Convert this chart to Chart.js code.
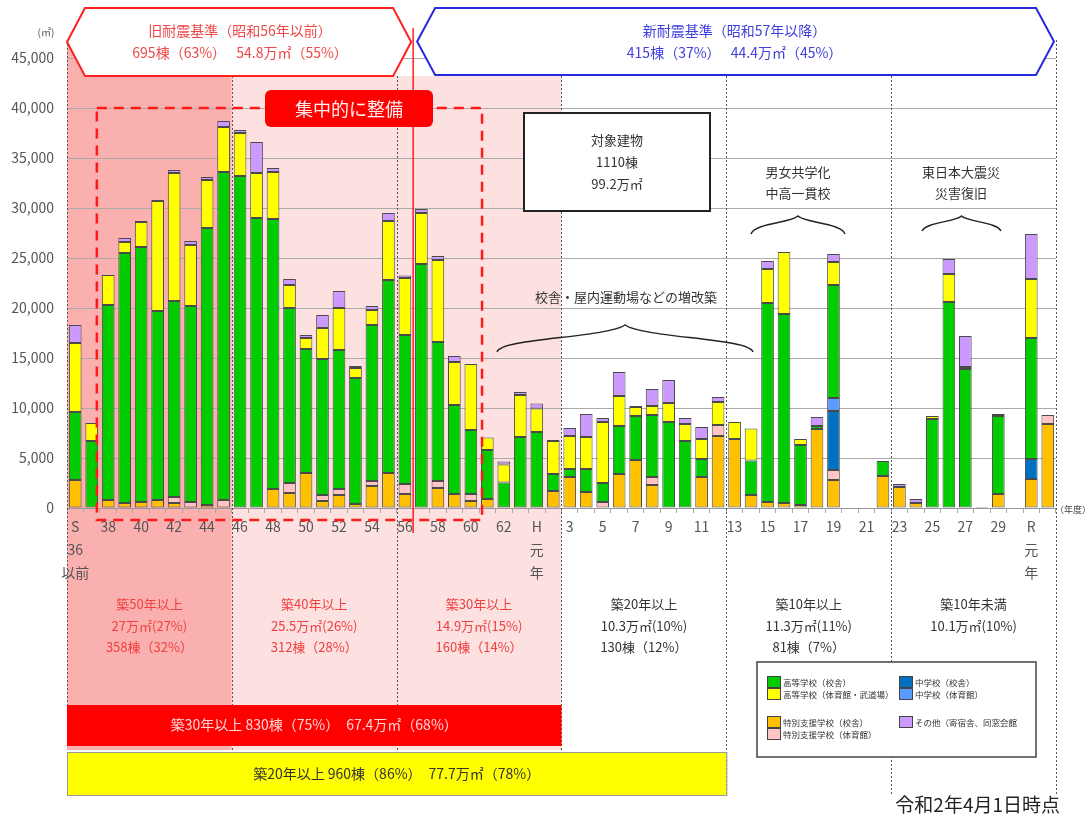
<!DOCTYPE html>
<html lang="ja">
<head>
<meta charset="utf-8">
<title>県立学校施設 建築年度別保有面積</title>
<script src="https://cdn.jsdelivr.net/npm/chart.js@4/dist/chart.umd.min.js"></script>
<style>
  html, body { margin: 0; padding: 0; background: #fff; }
  canvas { display: block; }
</style>
</head>
<body>
<canvas id="c" width="1089" height="821"></canvas>
<script>
// 建築年度（S36以前 ～ R2）
const categories = [
  'S36以前','S37','S38','S39','S40','S41','S42','S43','S44','S45',
  'S46','S47','S48','S49','S50','S51','S52','S53','S54','S55',
  'S56','S57','S58','S59','S60','S61','S62','S63','H元','H2',
  'H3','H4','H5','H6','H7','H8','H9','H10','H11','H12',
  'H13','H14','H15','H16','H17','H18','H19','H20','H21','H22',
  'H23','H24','H25','H26','H27','H28','H29','H30','R元','R2'
];

// 目盛に表示する年度（1年おき）
const xTickLabels = [
  ['S','36','以前'],'','38','','40','','42','','44','',
  '46','','48','','50','','52','','54','',
  '56','','58','','60','','62','',['H','元','年'],'',
  '3','','5','','7','','9','','11','',
  '13','','15','','17','','19','','21','',
  '23','','25','','27','','29','',['R','元','年'],''
];

const yTicks = [0, 5000, 10000, 15000, 20000, 25000, 30000, 35000, 40000, 45000];

// 延床面積（㎡）
const specialMain = [
  2800,0,800,500,600,800,500,0,300,0,
  0,0,1900,1500,3500,700,1300,400,2200,3500,
  1400,0,2000,1400,700,900,0,0,0,1700,
  3100,1600,0,3400,4800,2300,0,0,3100,7200,
  6900,1300,600,500,300,7900,2800,0,0,3200,
  2100,500,0,0,0,100,1400,0,2900,8400
];
const specialGym = [
  0,0,0,0,0,0,600,600,0,800,
  0,0,0,1000,0,600,600,0,500,0,
  1000,0,700,0,700,0,0,0,0,0,
  0,0,600,0,0,800,0,0,0,1100,
  0,0,0,0,0,0,1000,0,0,0,
  0,0,0,0,0,0,0,0,0,900
];
const juniorMain = [
  0,0,0,0,0,0,0,0,0,0,
  0,0,0,0,0,0,0,0,0,0,
  0,0,0,0,0,0,0,0,0,0,
  0,0,0,0,0,0,0,0,0,0,
  0,0,0,0,0,0,5900,0,0,0,
  0,0,0,0,0,0,0,0,2000,0
];
const juniorGym = [
  0,0,0,0,0,0,0,0,0,0,
  0,0,0,0,0,0,0,0,0,0,
  0,0,0,0,0,0,0,0,0,0,
  0,0,0,0,0,0,0,0,0,0,
  0,0,0,0,0,0,1300,0,0,0,
  0,0,0,0,0,0,0,0,0,0
];
const highMain = [
  6800,6700,19500,25000,25500,18900,19600,19600,27700,32800,
  33200,29000,27000,17500,12400,13600,13900,12600,15600,19300,
  14900,24400,13900,8900,6400,4900,2550,7100,7600,1700,
  800,2300,1900,4800,4400,6200,8600,6700,1800,0,
  0,3450,19900,18900,6000,300,11300,0,0,1500,
  0,0,8900,20600,13900,0,7800,0,12100,0
];
const highGym = [
  6900,1800,3000,1100,2500,11000,12800,6100,4800,4500,
  4300,4500,4700,2300,1100,3100,4200,1000,1500,5900,
  5700,5100,8200,4300,6600,1250,1800,4200,2350,3300,
  3300,3200,6100,3000,900,900,1900,1700,2000,2300,
  1700,3200,3400,6200,600,0,2300,0,0,0,
  0,0,300,2800,200,0,0,0,5900,0
];
const others = [
  1800,0,0,400,100,100,300,400,300,600,
  300,3100,400,600,300,1300,1700,200,400,800,
  250,400,400,600,0,0,300,300,500,100,
  800,2300,400,2400,100,1700,2300,600,1200,500,
  0,0,800,0,0,900,800,0,0,0,
  300,400,0,1500,3100,0,200,0,4500,0
];

// 築年数区分の境界（カテゴリ番号）と集計
const bandEdges = [0, 10, 20, 30, 40, 50, 60];
const bandTitles = ['築50年以上', '築40年以上', '築30年以上', '築20年以上', '築10年以上', '築10年未満'];
const bandAreas = ['27万㎡(27%)', '25.5万㎡(26%)', '14.9万㎡(15%)', '10.3万㎡(10%)', '11.3万㎡(11%)', '10.1万㎡(10%)'];
const bandCounts = ['358棟（32%）', '312棟（28%）', '160棟（14%）', '130棟（12%）', '81棟（7%）', ''];

const FONT = '"Noto Sans CJK JP", "Noto Sans", sans-serif';

function series(label, data, color) {
  return {
    label, data: data.map(v => v || null),
    backgroundColor: color, borderColor: '#4a4a4a', borderWidth: 1,
    borderSkipped: false, barPercentage: 0.77, categoryPercentage: 1
  };
}

function text(ctx, s, x, y, size, color, align) {
  ctx.save();
  ctx.font = size + 'px ' + FONT;
  ctx.fillStyle = color;
  ctx.textAlign = align || 'center';
  ctx.textBaseline = 'middle';
  ctx.fillText(s, x, y);
  ctx.restore();
}

function hexBanner(ctx, x0, x1, top, bot, stroke) {
  const mid = (top + bot) / 2, d = 18;
  ctx.save();
  ctx.beginPath();
  ctx.moveTo(x0, mid);
  ctx.lineTo(x0 + d, top);
  ctx.lineTo(x1 - d, top);
  ctx.lineTo(x1, mid);
  ctx.lineTo(x1 - d, bot);
  ctx.lineTo(x0 + d, bot);
  ctx.closePath();
  ctx.fillStyle = '#fff';
  ctx.fill();
  ctx.strokeStyle = stroke;
  ctx.lineWidth = 2;
  ctx.stroke();
  ctx.restore();
}

function brace(ctx, x1, x2, yEnd, yMid, yTip) {
  const xm = (x1 + x2) / 2;
  ctx.save();
  ctx.beginPath();
  ctx.moveTo(x1, yEnd);
  ctx.bezierCurveTo(x1 + 4, yMid, xm - (xm - x1) * 0.15, yMid, xm, yTip);
  ctx.bezierCurveTo(xm + (x2 - xm) * 0.15, yMid, x2 - 4, yMid, x2, yEnd);
  ctx.strokeStyle = '#222';
  ctx.lineWidth = 1.5;
  ctx.stroke();
  ctx.restore();
}

const backdrop = {
  id: 'backdrop',
  beforeDraw(chart) {
    const ctx = chart.ctx, xs = chart.scales.x;
    const step = xs.getPixelForValue(1) - xs.getPixelForValue(0);
    const edge = k => xs.getPixelForValue(0) + (k - 0.5) * step;
    ctx.save();
    ctx.fillStyle = '#fbb0b0';
    ctx.fillRect(edge(0), 40, edge(10) - edge(0), 710);
    ctx.fillStyle = '#fde0e0';
    ctx.fillRect(edge(10), 76, edge(30) - edge(10), 674);
    ctx.restore();
  }
};

const overlay = {
  id: 'overlay',
  afterDraw(chart) {
    const ctx = chart.ctx, xs = chart.scales.x, ys = chart.scales.y;
    const step = xs.getPixelForValue(1) - xs.getPixelForValue(0);
    const edge = k => xs.getPixelForValue(0) + (k - 0.5) * step;
    const at = f => xs.getPixelForValue(0) + f * step;

    // 区分の点線
    ctx.save();
    ctx.strokeStyle = '#555';
    ctx.lineWidth = 1;
    ctx.setLineDash([2, 2]);
    bandEdges.forEach((k, i) => {
      const top = (i === 0 || i === bandEdges.length - 1) ? 40 : 76;
      const bottom = i === 0 ? 705 : 795;
      ctx.beginPath();
      ctx.moveTo(Math.round(edge(k)) + 0.5, top);
      ctx.lineTo(Math.round(edge(k)) + 0.5, bottom);
      ctx.stroke();
    });
    ctx.restore();

    // 旧・新耐震基準の境界
    ctx.save();
    ctx.strokeStyle = '#ff2020';
    ctx.lineWidth = 1.5;
    ctx.beginPath();
    ctx.moveTo(edge(21), 28);
    ctx.lineTo(edge(21), 533);
    ctx.stroke();
    ctx.restore();

    // 集中的に整備した範囲
    ctx.save();
    ctx.strokeStyle = '#ff1a1a';
    ctx.lineWidth = 2.5;
    ctx.setLineDash([10, 7]);
    ctx.strokeRect(at(1.31), ys.getPixelForValue(40000), at(24.68) - at(1.31), 520 - ys.getPixelForValue(40000));
    ctx.restore();

    // 耐震基準の見出し
    hexBanner(ctx, edge(0), edge(21) - 2, 8, 76, '#ff2020');
    hexBanner(ctx, edge(21) + 4, edge(60) - 2, 8, 75, '#2828e0');
    const redMid = (edge(0) + edge(21)) / 2;
    const blueMid = (edge(21) + edge(60)) / 2;
    text(ctx, '旧耐震基準（昭和56年以前）', redMid, 31, 14, '#ef4848');
    text(ctx, '695棟（63%）　 54.8万㎡（55%）', redMid, 53, 14, '#ef4848');
    text(ctx, '新耐震基準（昭和57年以降）', blueMid, 31, 14, '#4040dc');
    text(ctx, '415棟（37%）　 44.4万㎡（45%）', blueMid, 53, 14, '#4040dc');

    // 集中的に整備
    ctx.save();
    ctx.fillStyle = '#ff0000';
    ctx.beginPath();
    ctx.roundRect(265, 90, 168, 37, 6);
    ctx.fill();
    ctx.restore();
    text(ctx, '集中的に整備', 349, 109, 18, '#fff0f0');

    // 対象建物
    ctx.save();
    ctx.fillStyle = '#fff';
    ctx.fillRect(524, 113, 186, 98);
    ctx.strokeStyle = '#222';
    ctx.lineWidth = 2;
    ctx.strokeRect(524, 113, 186, 98);
    ctx.restore();
    text(ctx, '対象建物', 617, 140, 13, '#333');
    text(ctx, '1110棟', 617, 162, 13, '#333');
    text(ctx, '99.2万㎡', 617, 184, 13, '#333');

    // 説明と括弧
    text(ctx, '校舎・屋内運動場などの増改築', 626, 297, 13, '#333');
    brace(ctx, 497, 753, 352, 338, 325);
    text(ctx, '男女共学化', 798, 172, 13, '#333');
    text(ctx, '中高一貫校', 798, 193, 13, '#333');
    brace(ctx, 751, 845, 234, 223, 216);
    text(ctx, '東日本大震災', 961, 172, 13, '#333');
    text(ctx, '災害復旧', 961, 193, 13, '#333');
    brace(ctx, 922, 1001, 231, 222, 216);

    // 築年数区分ごとの集計
    for (let i = 0; i < bandTitles.length; i++) {
      const cx = (edge(bandEdges[i]) + edge(bandEdges[i + 1])) / 2;
      const col = i < 3 ? '#f04040' : '#333';
      text(ctx, bandTitles[i], cx, 604, 13, col);
      text(ctx, bandAreas[i], cx, 626, 13, col);
      if (bandCounts[i]) text(ctx, bandCounts[i], cx, 647, 13, col);
    }

    // 築30年以上・築20年以上の合計
    ctx.save();
    ctx.fillStyle = '#ff0000';
    ctx.fillRect(edge(0), 705, edge(30) - edge(0), 41);
    ctx.fillStyle = '#ffff00';
    ctx.fillRect(edge(0), 752, edge(40) - edge(0), 43);
    ctx.strokeStyle = '#999';
    ctx.lineWidth = 1;
    ctx.strokeRect(edge(0) + 0.5, 752.5, edge(40) - edge(0), 43);
    ctx.restore();
    text(ctx, '築30年以上 830棟（75%）　67.4万㎡（68%）', (edge(0) + edge(30)) / 2, 725, 14, '#ffd6d6');
    text(ctx, '築20年以上 960棟（86%）　77.7万㎡（78%）', (edge(0) + edge(40)) / 2, 774, 14, '#333');

    // 凡例
    ctx.save();
    ctx.fillStyle = '#fff';
    ctx.fillRect(757, 662, 279, 95);
    ctx.strokeStyle = '#444';
    ctx.lineWidth = 1.5;
    ctx.strokeRect(757, 662, 279, 95);
    ctx.restore();
    const slots = [[4, 767, 676], [5, 767, 688], [2, 899, 676], [3, 899, 688], [0, 767, 716], [1, 767, 728], [6, 899, 716]];
    slots.forEach(([di, x, y]) => {
      const ds = chart.data.datasets[di];
      ctx.save();
      ctx.fillStyle = ds.backgroundColor;
      ctx.fillRect(x, y, 14, 12);
      ctx.strokeStyle = '#444';
      ctx.lineWidth = 1;
      ctx.strokeRect(x + 0.5, y + 0.5, 13, 11);
      ctx.restore();
      text(ctx, ds.label, x + 16, y + 6.5, 8.5, '#333', 'left');
    });

    // 単位・日付
    text(ctx, '(㎡)', 46, 32, 10, '#555');
    text(ctx, '（年度）', 1055, 510, 9, '#444', 'left');
    text(ctx, '令和2年4月1日時点', 1060, 805, 19, '#222', 'right');
  }
};

new Chart(document.getElementById('c'), {
  type: 'bar',
  data: {
    labels: categories,
    datasets: [
      series('特別支援学校（校舎）', specialMain, '#ffc000'),
      series('特別支援学校（体育館）', specialGym, '#ffc4c4'),
      series('中学校（校舎）', juniorMain, '#0070c0'),
      series('中学校（体育館）', juniorGym, '#5b9bff'),
      series('高等学校（校舎）', highMain, '#00cc00'),
      series('高等学校（体育館・武道場）', highGym, '#ffff00'),
      series('その他（寄宿舎、同窓会館', others, '#cc99ff')
    ]
  },
  options: {
    responsive: false,
    animation: false,
    layout: { padding: { top: 58, right: 33, bottom: 0, left: 0 } },
    plugins: { legend: { display: false }, tooltip: { enabled: false } },
    scales: {
      x: {
        stacked: true,
        offset: true,
        grid: { drawOnChartArea: false, offset: true, color: '#aaa', tickLength: 5 },
        border: { color: '#999' },
        ticks: {
          autoSkip: false, maxRotation: 0, minRotation: 0, padding: 2,
          color: '#555', font: { family: FONT, size: 14, lineHeight: 1.65 },
          callback: (v, i) => xTickLabels[i]
        },
        afterFit(scale) { scale.height = 313; }
      },
      y: {
        stacked: true,
        min: 0, max: 45000,
        afterBuildTicks(scale) { scale.ticks = yTicks.map(v => ({ value: v })); },
        grid: { color: '#aaa', drawTicks: false },
        border: { display: false },
        ticks: {
          padding: 13, color: '#555', font: { family: FONT, size: 14 },
          callback: v => v.toLocaleString('en-US')
        },
        afterFit(scale) { scale.width = 67; }
      }
    }
  },
  plugins: [backdrop, overlay]
});
</script>
</body>
</html>
